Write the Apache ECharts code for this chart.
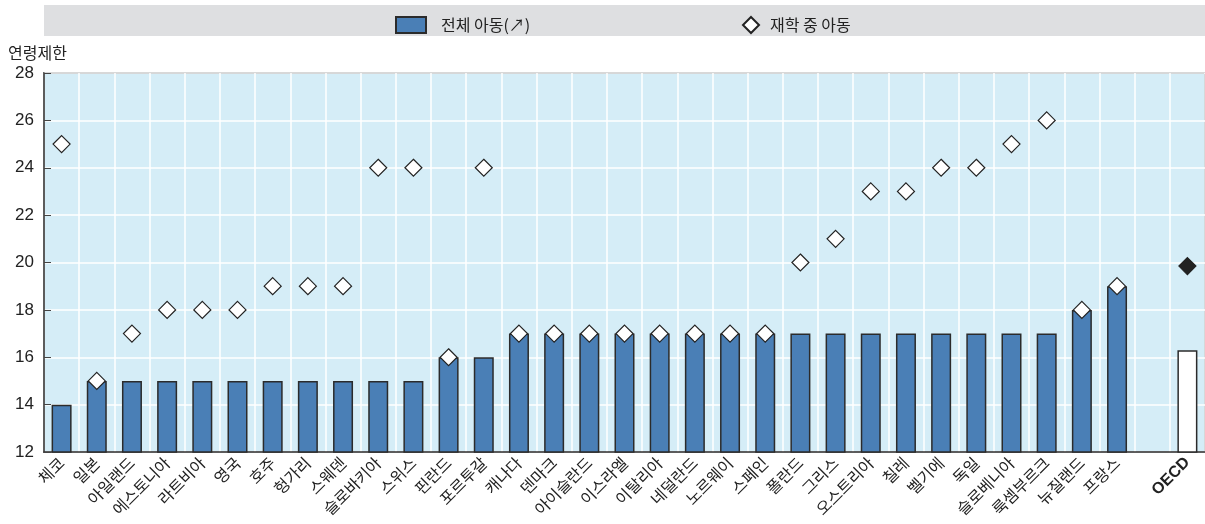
<!DOCTYPE html>
<html>
<head>
<meta charset="utf-8">
<script src="https://cdn.jsdelivr.net/npm/echarts@6/dist/echarts.min.js"></script>
<style>
  html, body { margin: 0; padding: 0; background: #fff; }
  #graph01 { width: 1205px; height: 524px; }
</style>
</head>
<body>
<div id="graph01"></div>
<script>
// countries, sorted by the minimum age for all children
var countries = ['체코', '일본', '아일랜드', '에스토니아', '라트비아', '영국', '호주', '헝가리', '스웨덴', '슬로바키아',
    '스위스', '핀란드', '포르투갈', '캐나다', '덴마크', '아이슬란드', '이스라엘', '이탈리아', '네덜란드', '노르웨이',
    '스페인', '폴란드', '그리스', '오스트리아', '칠레', '벨기에', '독일', '슬로베니아', '룩셈부르크', '뉴질랜드',
    '프랑스', '', 'OECD'];
var allChildren = [14, 15, 15, 15, 15, 15, 15, 15, 15, 15,
    15, 16, 16, 17, 17, 17, 17, 17, 17, 17,
    17, 17, 17, 17, 17, 17, 17, 17, 17, 18,
    19, null, 16.3];
var inEducation = [25, 15, 17, 18, 18, 18, 19, 19, 19, 24,
    24, 16, 24, 17, 17, 17, 17, 17, 17, 17,
    17, 20, 21, 23, 23, 24, 24, 25, 26, 18,
    19, null, 19.85];
var yTicks = { min: 12, max: 28, interval: 2 };

var barName = '전체 아동(↗)';
var dotName = '재학 중 아동';
var numFont = '"Liberation Sans Narrow", "Liberation Sans", sans-serif';
var krFont = '"Noto Sans CJK KR", sans-serif';

var barData = allChildren.map(function (v, i) {
    if (countries[i] === 'OECD') {
        return { value: v, itemStyle: { color: '#ffffff' } };
    }
    return v;
});
var dotData = inEducation.map(function (v, i) {
    if (countries[i] === 'OECD') {
        return { value: v, itemStyle: { color: '#222222', borderColor: '#222222' } };
    }
    return v;
});

var myChart = echarts.init(document.getElementById('graph01'), null, { renderer: 'canvas' });
var option = {
    animation: false,
    textStyle: { fontFamily: krFont },
    graphic: [
        {
            type: 'rect',
            shape: { x: 44, y: 5, width: 1161, height: 31 },
            style: { fill: '#dedfe1' },
            z: -1
        }
    ],
    legend: [
        {
            left: 390,
            top: 11,
            icon: 'rect',
            itemWidth: 30,
            itemHeight: 16,
            data: [barName],
            textStyle: { fontSize: 16, color: '#222', fontFamily: krFont, padding: [0, 0, 0, 10] }
        },
        {
            left: 737,
            top: 11,
            itemWidth: 16,
            itemHeight: 16,
            data: [dotName],
            textStyle: { fontSize: 16, color: '#222', fontFamily: krFont, padding: [0, 0, 0, 6] }
        }
    ],
    grid: {
        left: 44,
        right: 0,
        top: 73,
        bottom: 72,
        show: true,
        backgroundColor: '#d5edf7',
        borderColor: '#333',
        borderWidth: 1.5,
        containLabel: false
    },
    xAxis: {
        type: 'category',
        data: countries,
        boundaryGap: true,
        axisLine: { lineStyle: { color: '#333', width: 1.5 } },
        axisTick: { inside: true, length: 5, lineStyle: { color: '#444' } },
        splitLine: { show: true, lineStyle: { color: '#ffffff', width: 1.5 } },
        axisLabel: {
            rotate: 45,
            interval: 0,
            fontSize: 16,
            color: '#222',
            margin: 8,
            fontFamily: krFont,
            formatter: function (v) {
                return v === 'OECD' ? '{b|' + v + '}' : v;
            },
            rich: {
                b: { fontWeight: 'bold', fontSize: 16, color: '#222', fontFamily: numFont }
            }
        }
    },
    yAxis: {
        type: 'value',
        min: yTicks.min,
        max: yTicks.max,
        interval: yTicks.interval,
        name: '연령제한',
        nameLocation: 'end',
        nameGap: 12,
        nameTextStyle: { align: 'left', padding: [0, 0, 0, -36], fontSize: 16, color: '#222', fontFamily: krFont },
        axisLine: { show: true, lineStyle: { color: '#333', width: 1.5 } },
        axisTick: { show: true, inside: true, length: 7, lineStyle: { color: '#444' } },
        splitLine: { show: true, lineStyle: { color: '#ffffff', width: 1.5 } },
        axisLabel: { fontSize: 17, color: '#222', margin: 10, fontFamily: numFont }
    },
    series: [
        {
            name: barName,
            type: 'bar',
            barWidth: 20,
            itemStyle: { color: '#4a7fb6', borderColor: '#2b2b2b', borderWidth: 1.5 },
            data: barData,
            z: 2
        },
        {
            name: dotName,
            type: 'scatter',
            symbol: 'diamond',
            symbolSize: 17,
            itemStyle: { color: '#ffffff', borderColor: '#222', borderWidth: 1.2, opacity: 1 },
            data: dotData,
            z: 3
        }
    ]
};
myChart.setOption(option);
</script>
</body>
</html>
